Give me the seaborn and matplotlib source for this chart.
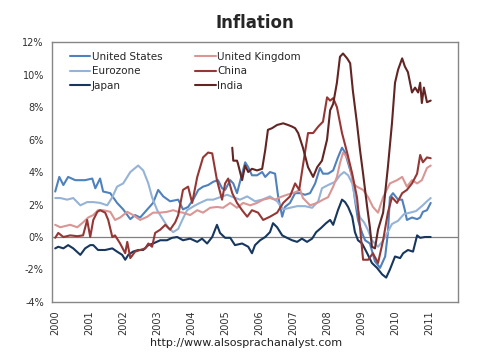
import numpy as np
import pandas as pd
import matplotlib
matplotlib.use('Agg')
import matplotlib.pyplot as plt
import seaborn as sns

# inflation, % year on year (x = fractional year)
us_t = [2000.0, 2000.12, 2000.24, 2000.38, 2000.59, 2000.88, 2001.09, 2001.18, 2001.32, 2001.41,
        2001.62, 2001.82, 2002.0, 2002.21, 2002.35, 2002.5, 2002.71, 2002.88, 2003.03, 2003.18,
        2003.38, 2003.62, 2003.76, 2003.91, 2004.06, 2004.21, 2004.35, 2004.5, 2004.65, 2004.79,
        2004.91, 2005.0, 2005.15, 2005.24, 2005.35, 2005.5, 2005.59, 2005.68, 2005.79, 2005.94,
        2006.09, 2006.18, 2006.32, 2006.47, 2006.56, 2006.68, 2006.76, 2006.91, 2007.06, 2007.21,
        2007.35, 2007.5, 2007.65, 2007.79, 2007.88, 2008.03, 2008.18, 2008.32, 2008.44, 2008.53,
        2008.62, 2008.74, 2008.82, 2008.91, 2009.03, 2009.12, 2009.26, 2009.41, 2009.56, 2009.71,
        2009.79, 2009.85, 2009.94, 2010.09, 2010.21, 2010.29, 2010.35, 2010.5, 2010.65, 2010.74,
        2010.82, 2010.94, 2011.05]
us_v = [2.8, 3.7, 3.2, 3.7, 3.5, 3.5, 3.6, 3.0, 3.6, 2.8,
        2.7, 2.1, 1.7, 1.1, 1.35, 1.2, 1.7, 2.1, 2.9, 2.5,
        2.2, 2.3, 1.7, 1.85, 2.3, 2.9, 3.1, 3.2, 3.4, 3.5,
        3.0, 2.9, 3.5, 3.3, 2.7, 3.9, 4.6, 4.3, 3.8, 3.8,
        4.0, 3.7, 4.0, 3.9, 2.5, 1.25, 1.85, 2.1, 2.7, 2.7,
        2.6, 2.7, 3.3, 4.25, 3.9, 3.9, 4.1, 4.9, 5.5, 5.2,
        4.55, 3.7, 2.3, 1.05, 0.25, -0.2, -0.4, -1.5, -1.9, -1.2,
        0.25, 2.45, 2.7, 2.3, 2.3, 1.65, 1.05, 1.2, 1.1, 1.2,
        1.55, 1.65, 2.1]

uk_t = [2000.0, 2000.15, 2000.44, 2000.65, 2000.82, 2000.97, 2001.12, 2001.26, 2001.41, 2001.62,
        2001.76, 2001.91, 2002.12, 2002.29, 2002.5, 2002.71, 2002.88, 2003.09, 2003.29, 2003.47,
        2003.62, 2003.76, 2003.97, 2004.18, 2004.35, 2004.56, 2004.76, 2004.94, 2005.15, 2005.35,
        2005.53, 2005.74, 2005.94, 2006.12, 2006.32, 2006.47, 2006.62, 2006.82, 2007.0, 2007.21,
        2007.29, 2007.5, 2007.71, 2007.88, 2008.03, 2008.18, 2008.29, 2008.38, 2008.47, 2008.59,
        2008.68, 2008.76, 2008.88, 2009.06, 2009.21, 2009.35, 2009.5, 2009.65, 2009.85, 2010.06,
        2010.21, 2010.35, 2010.5, 2010.65, 2010.79, 2010.94, 2011.05]
uk_v = [0.75, 0.6, 0.75, 0.6, 0.9, 1.2, 1.35, 1.65, 1.65, 1.55,
        1.05, 1.2, 1.55, 1.35, 1.05, 1.25, 1.5, 1.5, 1.55, 1.65,
        1.55, 1.5, 1.35, 1.65, 1.5, 1.8, 1.85, 1.8, 2.1, 1.8,
        2.1, 1.95, 2.1, 2.3, 2.4, 2.3, 2.45, 2.6, 2.7, 2.9,
        2.4, 1.95, 2.1, 2.3, 2.45, 3.1, 3.7, 4.55, 5.2, 4.9,
        4.3, 3.3, 3.1, 2.9, 2.45, 1.85, 1.5, 2.45, 3.3, 3.5,
        3.7, 3.1, 3.5, 3.3, 3.5, 4.25, 4.4]

ez_t = [2000.0, 2000.15, 2000.35, 2000.53, 2000.74, 2000.94, 2001.12, 2001.32, 2001.53, 2001.68,
        2001.82, 2002.0, 2002.21, 2002.44, 2002.59, 2002.74, 2002.85, 2003.0, 2003.18, 2003.32,
        2003.47, 2003.62, 2003.74, 2003.88, 2004.12, 2004.26, 2004.47, 2004.65, 2004.85, 2005.06,
        2005.24, 2005.44, 2005.65, 2005.88, 2006.09, 2006.32, 2006.53, 2006.71, 2006.91, 2007.12,
        2007.35, 2007.56, 2007.74, 2007.85, 2008.03, 2008.24, 2008.38, 2008.5, 2008.62, 2008.74,
        2008.85, 2008.97, 2009.09, 2009.21, 2009.32, 2009.5, 2009.62, 2009.76, 2009.91, 2010.09,
        2010.26, 2010.44, 2010.62, 2010.79, 2010.94, 2011.05]
ez_v = [2.4, 2.4, 2.3, 2.4, 1.95, 2.15, 2.15, 2.1, 1.95, 2.45,
        3.1, 3.3, 4.0, 4.4, 4.1, 3.3, 2.45, 1.65, 1.05, 0.6,
        0.3, 0.5, 1.05, 1.65, 1.95, 2.1, 2.3, 2.3, 2.45, 2.6,
        2.45, 2.3, 2.5, 2.2, 2.3, 2.5, 2.2, 1.7, 1.8, 1.9,
        1.9, 1.8, 2.2, 3.0, 3.2, 3.4, 3.8, 4.0, 3.8, 3.3,
        2.1, 1.2, 0.9, 0.4, -0.2, -0.6, -0.3, 0.2, 0.8, 1.0,
        1.4, 1.5, 1.6, 1.9, 2.2, 2.4]

cn_t = [2000.0, 2000.09, 2000.24, 2000.44, 2000.65, 2000.82, 2000.94, 2001.03, 2001.12, 2001.24,
        2001.32, 2001.47, 2001.56, 2001.68, 2001.76, 2001.91, 2002.06, 2002.12, 2002.21, 2002.35,
        2002.5, 2002.65, 2002.74, 2002.85, 2002.94, 2003.09, 2003.24, 2003.38, 2003.53, 2003.62,
        2003.76, 2003.91, 2004.03, 2004.18, 2004.35, 2004.5, 2004.62, 2004.76, 2004.91, 2005.0,
        2005.09, 2005.21, 2005.35, 2005.5, 2005.65, 2005.79, 2005.97, 2006.12, 2006.32, 2006.53,
        2006.71, 2006.91, 2007.06, 2007.18, 2007.29, 2007.44, 2007.59, 2007.74, 2007.88, 2008.0,
        2008.09, 2008.18, 2008.29, 2008.44, 2008.59, 2008.74, 2008.88, 2008.97, 2009.06, 2009.21,
        2009.35, 2009.5, 2009.65, 2009.79, 2009.91, 2010.06, 2010.21, 2010.35, 2010.5, 2010.65,
        2010.74, 2010.82, 2010.94, 2011.05]
cn_v = [-0.05, 0.25, 0.0, 0.1, 0.05, 0.1, 1.05, 0.0, 1.05, 1.55,
        1.65, 1.5, 1.05, 0.0, 0.1, -0.4, -1.0, -0.3, -1.3, -0.9,
        -0.8, -0.7, -0.4, -0.6, 0.25, 0.45, 0.75, 0.45, 0.9, 1.35,
        2.9, 3.1, 2.1, 3.7, 4.9, 5.2, 5.15, 3.5, 2.3, 3.3,
        3.6, 2.7, 2.1, 1.65, 1.25, 1.65, 1.5, 1.05, 1.25, 1.5,
        2.1, 2.5, 3.3, 2.9, 4.4, 6.4, 6.4, 6.8, 7.1, 8.6,
        8.4, 8.55, 8.0, 6.4, 5.2, 3.9, 2.45, 0.6, -1.4, -1.4,
        -1.0, -1.6, -0.2, 1.5, 2.45, 2.1, 2.7, 2.9, 3.3, 3.9,
        5.05, 4.6, 4.9, 4.85]

jp_t = [2000.0, 2000.09, 2000.24, 2000.38, 2000.53, 2000.74, 2000.88, 2001.03, 2001.12, 2001.26,
        2001.47, 2001.68, 2001.82, 2001.97, 2002.06, 2002.15, 2002.29, 2002.44, 2002.59, 2002.74,
        2002.88, 2003.09, 2003.29, 2003.44, 2003.59, 2003.76, 2003.97, 2004.18, 2004.32, 2004.47,
        2004.62, 2004.76, 2004.85, 2005.0, 2005.15, 2005.29, 2005.5, 2005.68, 2005.79, 2005.88,
        2006.03, 2006.18, 2006.32, 2006.41, 2006.53, 2006.68, 2006.82, 2006.97, 2007.12, 2007.26,
        2007.41, 2007.56, 2007.68, 2007.82, 2007.97, 2008.09, 2008.18, 2008.32, 2008.44, 2008.53,
        2008.62, 2008.74, 2008.82, 2008.91, 2009.03, 2009.18, 2009.32, 2009.47, 2009.62, 2009.74,
        2009.85, 2010.0, 2010.15, 2010.24, 2010.38, 2010.53, 2010.65, 2010.74, 2010.88, 2011.05]
jp_v = [-0.7, -0.6, -0.7, -0.5, -0.7, -1.1, -0.7, -0.5, -0.5, -0.8,
        -0.8, -0.7, -0.9, -1.1, -1.4, -1.1, -0.9, -0.8, -0.8, -0.5,
        -0.4, -0.2, -0.2, -0.05, 0.0, -0.2, -0.1, -0.3, -0.1, -0.4,
        0.0, 0.75, 0.25, -0.05, -0.05, -0.5, -0.4, -0.6, -1.0, -0.5,
        -0.2, 0.0, 0.3, 0.85, 0.6, 0.1, -0.05, -0.2, -0.3, -0.1,
        -0.3, -0.1, 0.3, 0.55, 0.85, 1.05, 0.75, 1.65, 2.3, 2.15,
        1.85, 1.25, 0.3, -0.2, -0.4, -1.0, -1.6, -1.9, -2.3, -2.5,
        -2.0, -1.2, -1.3, -1.0, -0.8, -0.9, 0.1, -0.05, 0.0, 0.0]

in_t = [2005.21, 2005.24, 2005.35, 2005.38, 2005.5, 2005.59, 2005.68, 2005.79, 2005.94, 2006.09,
        2006.18, 2006.26, 2006.38, 2006.53, 2006.71, 2006.85, 2006.97, 2007.06, 2007.15, 2007.29,
        2007.44, 2007.59, 2007.71, 2007.85, 2008.0, 2008.09, 2008.18, 2008.29, 2008.38, 2008.47,
        2008.59, 2008.68, 2008.76, 2008.88, 2008.97, 2009.06, 2009.18, 2009.26, 2009.32, 2009.41,
        2009.5, 2009.65, 2009.79, 2009.91, 2010.0, 2010.09, 2010.21, 2010.29, 2010.38, 2010.5,
        2010.59, 2010.68, 2010.74, 2010.79, 2010.85, 2010.94, 2011.05]
in_v = [5.5, 4.7, 4.7, 4.5, 3.5, 4.4, 4.0, 4.2, 4.1, 4.2,
        5.35, 6.6, 6.7, 6.9, 7.0, 6.9, 6.8, 6.7, 6.4, 5.5,
        4.3, 3.7, 4.3, 4.7, 6.0, 7.8, 8.2, 9.5, 11.1, 11.3,
        11.0, 10.7, 9.0, 7.0, 5.35, 3.9, 1.85, 0.6, -0.6, -0.7,
        0.45, 1.5, 4.3, 7.0, 9.5, 10.3, 11.0, 10.5, 10.15, 8.9,
        9.2, 8.9, 9.5, 8.25, 9.2, 8.3, 8.4]

countries = ['United States', 'Eurozone', 'Japan', 'United Kingdom', 'China', 'India']
colors = ['#4F81BD', '#95B3D7', '#17375E', '#D99694', '#953735', '#632523']
year_ticks = list(range(2000, 2012))
pct_ticks = [-4, -2, 0, 2, 4, 6, 8, 10, 12]

series = [(us_t, us_v), (ez_t, ez_v), (jp_t, jp_v), (uk_t, uk_v), (cn_t, cn_v), (in_t, in_v)]
frames = []
for name, (t, v) in zip(countries, series):
    frames.append(pd.DataFrame({'year': t, 'inflation': v, 'country': name}))
df = pd.concat(frames, ignore_index=True)

sns.set_style('white')
plt.rcParams['font.family'] = ['DejaVu Sans']

fig = plt.figure(figsize=(4.83, 3.54), dpi=100)
ax = fig.add_axes([0.108, 0.147, 0.840, 0.734])

ax.axhline(0, color='#808080', lw=0.9, zorder=1)
sns.lineplot(data=df, x='year', y='inflation', hue='country', hue_order=countries,
             palette=colors, estimator=None, lw=1.5, ax=ax, zorder=3)

ax.set_xlim(1999.91, 2011.85)
ax.set_ylim(-4, 12)
ax.set_xticks(year_ticks)
ax.set_xticklabels([str(y) for y in year_ticks], rotation=90, fontsize=7, color='#303030')
ax.set_yticks(pct_ticks)
ax.set_yticklabels([f'{p}%' for p in pct_ticks], fontsize=7, color='#303030')
ax.tick_params(length=0, pad=6)
ax.set_xlabel('')
ax.set_ylabel('')
for s in ax.spines.values():
    s.set_color('#868686')
    s.set_linewidth(1.0)

ax.legend(loc='upper left', bbox_to_anchor=(0.02, 1.0), ncol=2, frameon=False,
          fontsize=7.5, handlelength=2.0, handletextpad=0.1, columnspacing=3.2,
          labelspacing=0.45)

fig.text(0.528, 0.935, 'Inflation', ha='center', va='center', fontsize=12, fontweight='bold')
fig.text(0.51, 0.03, 'http://www.alsosprachanalyst.com', ha='center', va='center',
         fontsize=8, color='#202020')

fig.savefig('out.png', dpi=100)
